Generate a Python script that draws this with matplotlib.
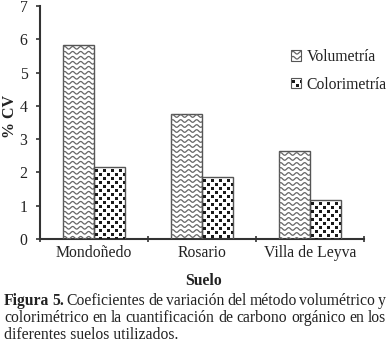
import numpy as np
import matplotlib
matplotlib.use("Agg")
import matplotlib.pyplot as plt
from matplotlib.transforms import IdentityTransform
from matplotlib.collections import PolyCollection, LineCollection
from matplotlib.patches import Rectangle

categories = ["Mondoñedo", "Rosario", "Villa de Leyva"]
volumetria = [5.82, 3.77, 2.63]
colorimetria = [2.16, 1.85, 1.17]
series_names = ["Volumetría", "Colorimetría"]
y_ticks = [0, 1, 2, 3, 4, 5, 6, 7]

plt.rcParams['font.family'] = ['Liberation Serif', 'DejaVu Serif']
TXT = '#222222'
FS = 11.3

W, H = 389, 343
fig = plt.figure(figsize=(W / 100, H / 100), dpi=100)
ax = fig.add_axes([40 / W, (H - 239) / H, 324 / W, 233 / H])

x = np.arange(len(categories))
bw = 0.29
b1 = ax.bar(x - bw / 2, volumetria, bw, facecolor='white', edgecolor='none', zorder=1)
b2 = ax.bar(x + bw / 2, colorimetria, bw, facecolor='white', edgecolor='none', zorder=1)
e1 = ax.bar(x - bw / 2, volumetria, bw, fill=False, edgecolor='#555555', lw=1.0, zorder=4)
e2 = ax.bar(x + bw / 2, colorimetria, bw, fill=False, edgecolor='#555555', lw=1.0, zorder=4)

ax.set_xlim(-0.5, len(categories) - 0.5)
ax.set_ylim(0, 7)
ax.set_yticks(y_ticks)
ax.set_xticks(x)
ax.set_xticklabels(categories)
ax.set_xticks(np.arange(len(categories) + 1) - 0.5, minor=True)
ax.tick_params(axis='x', which='major', length=0, pad=4, labelsize=FS, labelcolor=TXT)
ax.tick_params(axis='x', which='minor', direction='inout', length=5, width=1.2, color='#333333')
ax.tick_params(axis='y', direction='out', length=3, width=1.2, color='#333333', pad=6, labelsize=FS, labelcolor=TXT)
for s in ['top', 'right']:
    ax.spines[s].set_visible(False)
for s in ['left', 'bottom']:
    ax.spines[s].set_color('#333333')
    ax.spines[s].set_linewidth(1.5)

ax.set_ylabel('% CV', fontsize=11.5, fontweight='bold', color=TXT, va='center', ha='center')
ax.yaxis.set_label_coords(-30 / 324, (239 - 117) / 233)
fig.text(204 / W, 1 - 281 / H, 'Suelo', fontsize=FS, fontweight='bold', color=TXT, ha='center', va='center')

# Legend with proxy handles (patterns drawn afterwards)
h1 = Rectangle((0, 0), 1, 1, facecolor='white', edgecolor='#555555', lw=0.8)
h2 = Rectangle((0, 0), 1, 1, facecolor='white', edgecolor='#555555', lw=0.8)
leg = ax.legend([h1, h2], series_names, loc='upper left', bbox_to_anchor=(291 / W, 1 - 49 / H),
                bbox_transform=fig.transFigure, frameon=False, fontsize=FS,
                handlelength=0.65, handleheight=0.65, handletextpad=0.35, labelspacing=0.75,
                borderpad=0, borderaxespad=0)
for t in leg.get_texts():
    t.set_color(TXT)

fig.canvas.draw()
renderer = fig.canvas.get_renderer()

# Caption (justified lines)
caption_lines = [
    [("Figura", 'bold'), ("5.", 'bold'), ("Coeficientes", 'normal'), ("de", 'normal'), ("variación", 'normal'),
     ("del", 'normal'), ("método", 'normal'), ("volumétrico", 'normal'), ("y", 'normal')],
    [(w, 'normal') for w in "colorimétrico en la cuantificación de carbono orgánico en los".split()],
]
LX0, LX1 = 4, 386


def justify(words, ypix, fs):
    while True:
        arts = [fig.text(0, 1 - ypix / H, w, fontsize=fs, fontweight=wt, va='center', ha='left', color=TXT)
                for w, wt in words]
        widths = [a.get_window_extent(renderer).width for a in arts]
        gap = (LX1 - LX0 - sum(widths)) / (len(words) - 1)
        if gap >= 2.2 or fs < 8:
            break
        for a in arts:
            a.remove()
        fs -= 0.2
    xcur = LX0
    for a, w in zip(arts, widths):
        a.set_x(xcur / W)
        xcur += w + gap


justify(caption_lines[0], 301, FS)
justify(caption_lines[1], 318, FS)
fig.text(4 / W, 1 - 335 / H, 'diferentes suelos utilizados.', fontsize=FS, va='center', ha='left', color=TXT)


def wave_pattern(bb):
    segs = []
    y = bb.y1 - 2.5
    xs = np.arange(bb.x0 - 4, bb.x1 + 4, 0.5)
    while y > bb.y0 - 3:
        segs.append(np.column_stack([xs, y + 1.3 * np.sin((xs - bb.x0) / 8.0 * 2 * np.pi)]))
        y -= 5.0
    lc = LineCollection(segs, colors='#666666', linewidths=0.9, transform=IdentityTransform(), zorder=3)
    lc.set_clip_box(bb)
    return lc


def checker_pattern(bb):
    verts = []
    c = 4.0
    nx = int((bb.x1 - bb.x0) / c) + 2
    ny = int((bb.y1 - bb.y0) / c) + 2
    for j in range(ny):
        for i in range(nx):
            if (i + j) % 2 == 0:
                x0 = bb.x0 + 1 + i * c
                y0 = bb.y1 - 1 - (j + 1) * c
                s = 3.2
                verts.append([(x0, y0), (x0 + s, y0), (x0 + s, y0 + s), (x0, y0 + s)])
    pc = PolyCollection(verts, facecolors='#1a1a1a', edgecolors='none', transform=IdentityTransform(), zorder=3)
    pc.set_clip_box(bb)
    return pc


for bar in b1:
    fig.add_artist(wave_pattern(bar.get_window_extent(renderer)))
for bar in b2:
    fig.add_artist(checker_pattern(bar.get_window_extent(renderer)))
for p, fn in zip(leg.get_patches(), [wave_pattern, checker_pattern]):
    art = fn(p.get_window_extent(renderer))
    art.set_zorder(10)
    fig.add_artist(art)

fig.savefig('out.png', dpi=100)
